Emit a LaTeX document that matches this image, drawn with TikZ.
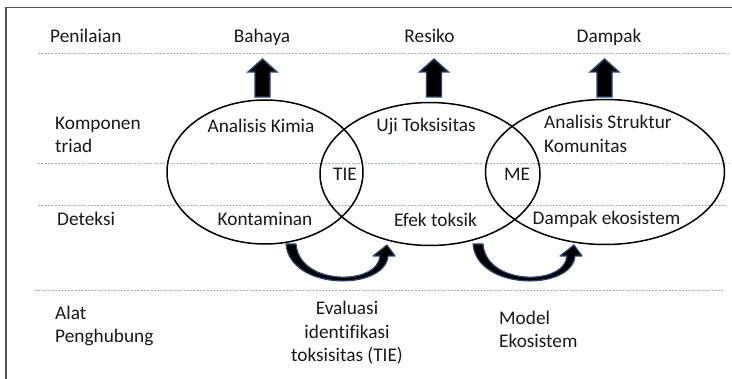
\documentclass[tikz,border=0pt]{standalone}
\usepackage{fontspec}
\setmainfont[Ligatures=NoCommon]{Carlito}
\usetikzlibrary{shapes.geometric}
\definecolor{txt}{RGB}{25,25,25}
\definecolor{guide}{RGB}{160,176,198}
\definecolor{rim}{RGB}{40,70,115}
\definecolor{framecol}{RGB}{85,85,85}
\begin{document}
\begin{tikzpicture}[x=1pt,y=-1pt,
  lbl/.style={font=\fontsize{19.3}{23}\selectfont, text=txt, inner sep=0pt},
  guideline/.style={draw=guide, line width=0.9pt, dash pattern=on 2pt off 1.3pt},
  triad/.style={draw=black, line width=1.5pt, ellipse, inner sep=0pt},
  blockarrow/.style={fill=black, draw=rim, line width=1.4pt, line join=miter},
  bendarrow/.style={fill=black, draw=rim, line width=1.2pt, line join=round}]
\useasboundingbox (0,0) rectangle (732,379);

% partial frame
\draw[framecol, line width=1.3pt] (732,7.5) -- (6,7.5) -- (6,379);

% row separators
\draw[guideline] (38,53) -- (728,53);
\draw[guideline] (38,163) -- (728,163);
\draw[guideline] (38,205) -- (726,205);
\draw[guideline] (35,290) -- (724,290);

% curved linking arrows
\foreach \dx in {0,187} {
  \begin{scope}[xshift=\dx pt]
    \filldraw[bendarrow] (286,244) .. controls (290,291) and (385,291) .. (388,256)
      -- (395,256) -- (387,245) -- (373,256) -- (380,256)
      .. controls (378,286) and (299,286) .. (296,244) -- cycle;
  \end{scope}
}

% the three triad components
\node[triad, minimum width=196pt, minimum height=144pt] (kimia) at (265,172) {};
\node[triad, minimum width=220pt, minimum height=143pt] (toks) at (430,174) {};
\node[triad, minimum width=239pt, minimum height=145pt] (komun) at (605,172) {};

% upward block arrows
\foreach \cx in {262.5,434,604.5} {
  \filldraw[blockarrow] (\cx-7.5,97) -- (\cx-7.5,72) -- (\cx-14.5,72) -- (\cx,59)
    -- (\cx+14.5,72) -- (\cx+7.5,72) -- (\cx+7.5,97) -- cycle;
}

% row headings
\node[lbl, anchor=base west] (hPen) at (50,43) {Penilaian};
\node[lbl, anchor=base west] (hKom1) at (55,130) {Komponen};
\node[lbl, anchor=base west] (hKom2) at (55,153) {triad};
\node[lbl, anchor=base west] (hDet) at (57,226) {Deteksi};
\node[lbl, anchor=base west] (hAlat1) at (55,320) {Alat};
\node[lbl, anchor=base west] (hAlat2) at (55,343) {Penghubung};

% assessment
\node[lbl, anchor=base] (bahaya) at (262,43) {Bahaya};
\node[lbl, anchor=base] (resiko) at (429.5,43) {Resiko};
\node[lbl, anchor=base] (dampak) at (609,43) {Dampak};

% triad components
\node[lbl, anchor=base] (ak) at (261,133) {Analisis Kimia};
\node[lbl, anchor=base] (ut) at (426,132) {Uji Toksisitas};
\node[lbl, anchor=base west] (as1) at (544,129) {Analisis Struktur};
\node[lbl, anchor=base west] (as2) at (544,153) {Komunitas};
\node[lbl, anchor=base] (tie) at (345,181) {TIE};
\node[lbl, anchor=base] (me) at (517,181) {ME};

% detection
\node[lbl, anchor=base] (kont) at (265,226) {Kontaminan};
\node[lbl, anchor=base] (efek) at (435.5,227) {Efek toksik};
\node[lbl, anchor=base] (deko) at (606.5,225) {Dampak ekosistem};

% linking tools
\node[lbl, anchor=base] (ev1) at (347,315) {Evaluasi};
\node[lbl, anchor=base] (ev2) at (347,338.5) {identifikasi};
\node[lbl, anchor=base] (ev3) at (347,362) {toksisitas (TIE)};
\node[lbl, anchor=base west] (mo1) at (499,325) {Model};
\node[lbl, anchor=base west] (mo2) at (499,348) {Ekosistem};
\end{tikzpicture}
\end{document}
